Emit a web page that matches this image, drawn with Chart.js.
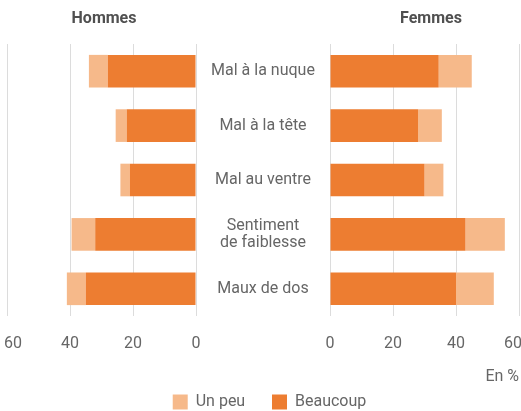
<!DOCTYPE html>
<html>
<head>
    <meta charset="utf-8">
    <title>Douleurs Hommes / Femmes</title>
    <script src="https://cdn.jsdelivr.net/npm/chart.js@4.4.1/dist/chart.umd.min.js"></script>
    <style>
        body { margin: 0; background: #fff; }
        .wrap { position: relative; width: 521px; height: 411px; }
        .wrap canvas { position: absolute; left: 0; top: 0; }
        .title {
            position: absolute; top: 8px; width: 120px; text-align: center;
            font: bold 16px Roboto, sans-serif; color: #505050;
        }
    </style>
</head>
<body>
    <div class="wrap">
        <canvas id="chart-femmes" width="521" height="411"></canvas>
        <canvas id="chart-hommes" width="521" height="411"></canvas>
        <div class="title" style="left:44px">Hommes</div>
        <div class="title" style="left:371px">Femmes</div>
    </div>
    <script>
        // data, in %
        const categories = ['Mal à la nuque', 'Mal à la tête', 'Mal au ventre', ['Sentiment', 'de faiblesse'], 'Maux de dos'];
        const hommesBeaucoup = [28, 22, 21, 32, 35];
        const hommesUnPeu = [6, 3.5, 3, 7.5, 6];
        const femmesBeaucoup = [34.5, 28, 30, 43, 40];
        const femmesUnPeu = [10.5, 7.5, 6, 12.5, 12];
        const xTicks = [0, 20, 40, 60];

        const FONT = "Roboto, 'Liberation Sans', sans-serif";
        const DARK = '#ED7D31';
        const LIGHT = '#F6B98A';
        const GREY = '#666';

        Chart.defaults.font.family = FONT;
        Chart.defaults.font.size = 16;
        Chart.defaults.color = GREY;
        Chart.defaults.animation = false;
        Chart.defaults.responsive = false;

        // category labels centred on x = 263, between the two plots
        const mctx = document.createElement('canvas').getContext('2d');
        mctx.font = '16px ' + FONT;
        const widest = Math.max(...categories.flat().map(t => mctx.measureText(t).width));
        const catPadding = 330 - 263 - widest / 2;

        function datasets(beaucoup, unPeu) {
            return [
                { label: 'Beaucoup', data: beaucoup, backgroundColor: DARK },
                { label: 'Un peu', data: unPeu, backgroundColor: LIGHT }
            ];
        }

        function xScale(reverse, axisHeight) {
            return {
                stacked: true, reverse: reverse, min: 0, max: 60,
                afterBuildTicks: (s) => { s.ticks = xTicks.map(v => ({ value: v })); },
                afterFit: (s) => {
                    s.height = axisHeight(s);
                    s.paddingLeft = 0; s.paddingRight = 0;
                },
                grid: { color: '#dcdcdc', drawTicks: false },
                border: { display: false },
                ticks: {
                    padding: 18, color: GREY, maxRotation: 0,
                    // keep the outer "60" inside the page
                    callback: (v) => v === 60 ? (reverse ? '   60' : '60   ') : String(v)
                }
            };
        }

        const defaultLabels = Chart.defaults.plugins.legend.labels.generateLabels;

        // right: femmes, carries category labels, unit and legend
        const femmesX = xScale(false, (s) => 104 - s.chart.legend.height);
        femmesX.title = { display: true, text: 'En %', align: 'end', color: GREY, padding: { top: 0, bottom: 4 } };

        new Chart(document.getElementById('chart-femmes'), {
            type: 'bar',
            data: { labels: categories, datasets: datasets(femmesBeaucoup, femmesUnPeu) },
            options: {
                indexAxis: 'y',
                categoryPercentage: 0.6, barPercentage: 1,
                layout: { autoPadding: false, padding: { left: 20, right: 2, top: 44, bottom: -9 } },
                plugins: {
                    legend: {
                        position: 'bottom',
                        labels: {
                            boxWidth: 15, boxHeight: 15, padding: 3, color: GREY,
                            sort: (a, b) => b.datasetIndex - a.datasetIndex,
                            generateLabels: (chart) => defaultLabels(chart).map(l => {
                                if (l.text === 'Un peu') l.text = 'Un peu      ';
                                return l;
                            })
                        }
                    },
                    tooltip: { enabled: false }
                },
                scales: {
                    x: femmesX,
                    y: {
                        stacked: true,
                        grid: { display: false, drawTicks: false }, border: { display: false },
                        ticks: { crossAlign: 'center', color: GREY, padding: catPadding, font: { lineHeight: 1.1 } },
                        afterFit: (s) => { s.width = 310; }
                    }
                }
            }
        });

        // left: hommes, mirrored
        new Chart(document.getElementById('chart-hommes'), {
            type: 'bar',
            data: { labels: categories, datasets: datasets(hommesBeaucoup, hommesUnPeu) },
            options: {
                indexAxis: 'y',
                categoryPercentage: 0.6, barPercentage: 1,
                layout: { autoPadding: false, padding: { left: 7, right: 325, top: 44, bottom: 0 } },
                plugins: { legend: { display: false }, tooltip: { enabled: false } },
                scales: {
                    x: xScale(true, () => 95),
                    y: { stacked: true, display: false }
                }
            }
        });
    </script>
</body>
</html>
